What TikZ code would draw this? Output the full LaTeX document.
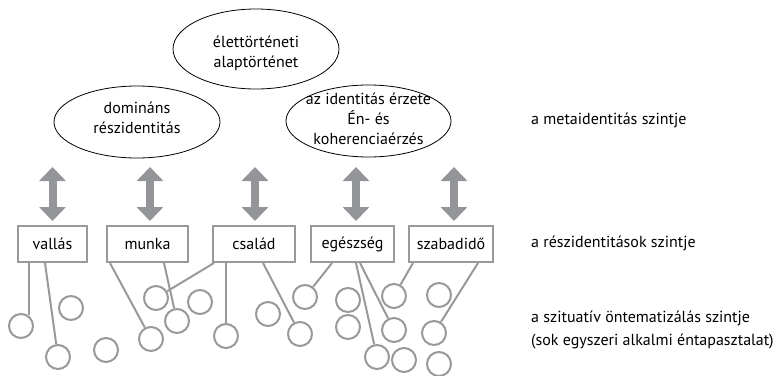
\documentclass[tikz,border=0pt]{standalone}
\usepackage{fontspec}
\setmainfont{PT Sans}
\usetikzlibrary{shapes.geometric,arrows.meta}
\definecolor{linegray}{RGB}{152,153,156}
\definecolor{arrowgray}{RGB}{147,149,152}
\begin{document}
\begin{tikzpicture}[x=1pt,y=-1pt,
  txt/.style={font=\fontsize{16}{20}\selectfont, inner sep=0pt, align=center},
  bubble/.style={draw=black, line width=0.8pt, ellipse, inner sep=0pt},
  area/.style={draw=linegray, line width=2pt, minimum height=36pt, inner sep=0pt, font=\fontsize{16}{20}\selectfont},
  episode/.style={circle, draw=linegray, line width=2pt, minimum size=24pt, inner sep=0pt},
  link/.style={draw=linegray, line width=2pt},
  dbl/.style={draw=arrowgray, line width=8pt, {Triangle[width=26pt,length=14pt]}-{Triangle[width=26pt,length=14pt]}},
  levellabel/.style={anchor=base west, align=left, inner sep=0pt, font=\fontsize{16}{23}\selectfont}
]
\useasboundingbox (0,0) rectangle (779,375);

% metaidentity level
\node[bubble, minimum width=166pt, minimum height=80pt] (life) at (256,49) {};
\node[txt] (life-t) at (256,53) {élettörténeti\\alaptörténet};
\node[bubble, minimum width=166pt, minimum height=72pt] (dom) at (137,122) {};
\node[txt] (dom-t) at (137,118) {domináns\\részidentitás};
\node[bubble, minimum width=165pt, minimum height=72pt] (ident) at (368.5,121) {};
\node[txt] (ident-t) at (368.5,118.5) {az identitás érzete\\Én- és\\koherenciaérzés};

% partial identities
\node[area, minimum width=69pt] (vallas) at (52.5,244) {vallás};
\node[area, minimum width=81pt] (munka) at (147.5,244) {munka};
\node[area, minimum width=82pt] (csalad) at (254,244) {család};
\node[area, minimum width=83pt] (egeszseg) at (352.5,244) {egészség};
\node[area, minimum width=84pt] (szabadido) at (451,244) {szabadidő};

% two-way arrows between the levels
\foreach \b/\dx in {vallas/0, munka/2.5, csalad/1, egeszseg/3.5, szabadido/3}
  \draw[dbl] ([xshift=\dx pt, yshift=4pt]\b.north) -- ([xshift=\dx pt, yshift=58pt]\b.north);

% situational self-thematisations
\foreach \n/\x/\y in {1/21/326, 2/58/357, 3/71/308, 4/106/350, 5/156/298, 6/177/321,
  7/200/302, 8/151/339, 9/226/336, 10/268/314, 11/300/334, 12/305/297, 13/348/300,
  14/348/327, 15/377/357, 16/394/296, 17/394/330, 18/404/360, 19/439/295, 20/434/333, 21/439/364}
  \node[episode] (c\n) at (\x,\y) {};

% links from partial identities to episodes
\draw[link] (c1.54) -- (c1.54 |- vallas.south);
\draw[link] ([xshift=28pt]vallas.south west) -- (c2);
\draw[link] ([xshift=4pt]munka.south west) -- (c8);
\draw[link] ([xshift=58pt]munka.south west) -- (c6);
\draw[link] ([xshift=2pt]csalad.south west) -- (c5);
\draw[link] (c9.north) -- (c9.north |- csalad.south);
\draw[link] ([xshift=51pt]csalad.south west) -- (c11);
\draw[link] ([xshift=22pt]egeszseg.south west) -- (c12);
\draw[link] ([xshift=46pt]egeszseg.south west) -- (c15);
\draw[link] ([xshift=50pt]egeszseg.south west) -- (c17);
\draw[link] ([xshift=5pt]szabadido.south west) -- (c16);
\draw[link] ([xshift=70pt]szabadido.south west) -- (c20);

% level labels
\node[levellabel] (l-meta) at (531,124) {a metaidentitás szintje};
\node[levellabel] (l-part) at (531,247) {a részidentitások szintje};
\node[levellabel, anchor=north west] (l-sit) at (531,311) {a szituatív öntematizálás szintje\\(sok egyszeri alkalmi éntapasztalat)};
\end{tikzpicture}
\end{document}
